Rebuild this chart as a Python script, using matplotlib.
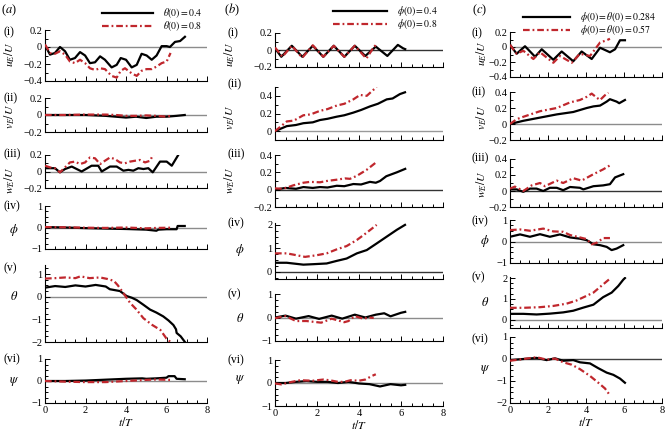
import matplotlib
matplotlib.use('Agg')
import matplotlib.pyplot as plt
from matplotlib.lines import Line2D
from matplotlib.ticker import MultipleLocator, AutoMinorLocator, FuncFormatter

plt.rcParams['font.family'] = ['Liberation Serif', 'DejaVu Serif']
plt.rcParams['mathtext.fontset'] = 'stix'

W, H = 667, 432
BLACK = 'black'
RED = '#c0272d'

# ---------- column (a): theta(0) = 0.4 (black) / 0.8 (red) ----------
a1_tk = [0, 0.25, 0.49, 0.74, 0.99, 1.23, 1.48, 1.73, 1.98, 2.22, 2.47, 2.72, 2.96, 3.29, 3.54,
         3.74, 4.0, 4.28, 4.53, 4.77, 5.02, 5.27, 5.51, 5.76, 6.01, 6.17, 6.42, 6.67, 6.91]
a1_k = [0.02, -0.09, -0.07, 0.0, -0.05, -0.15, -0.13, -0.06, -0.1, -0.19, -0.18, -0.11, -0.15, -0.24, -0.21,
        -0.13, -0.15, -0.24, -0.21, -0.08, -0.1, -0.15, -0.1, 0.01, 0.01, 0.0, 0.06, 0.07, 0.12]
a1_tr = [0, 0.25, 0.49, 0.74, 0.99, 1.23, 1.48, 1.73, 1.98, 2.22, 2.47, 2.72, 2.96, 3.29, 3.54,
         3.74, 3.95, 4.28, 4.53, 4.77, 5.02, 5.27, 5.51, 5.76, 6.01, 6.2]
a1_r = [0.03, -0.07, -0.08, -0.05, -0.09, -0.17, -0.19, -0.15, -0.19, -0.25, -0.27, -0.25, -0.26, -0.34, -0.36,
        -0.28, -0.25, -0.31, -0.34, -0.28, -0.26, -0.26, -0.23, -0.19, -0.17, -0.07]

a2_tk = [0, 1, 2, 3, 3.5, 4, 4.5, 5, 5.5, 6, 6.5, 6.9]
a2_k = [0, 0, 0, -0.01, -0.02, -0.03, -0.02, -0.035, -0.02, -0.02, -0.01, 0]
a2_tr = [0, 1, 2, 3, 3.5, 4, 4.5, 5, 5.5, 6, 6.2]
a2_r = [0, 0, 0.005, 0.005, 0, -0.01, -0.01, -0.005, -0.01, -0.02, -0.01]

a3_tk = [0, 0.25, 0.49, 0.74, 0.99, 1.32, 1.81, 2.3, 2.63, 2.8, 3.21, 3.54, 3.87, 4.12, 4.36,
         4.61, 4.86, 5.1, 5.32, 5.68, 6.01, 6.26, 6.58]
a3_k = [0.04, 0.04, 0.04, -0.01, 0.03, 0.06, 0.0, 0.07, 0.07, 0.0, 0.06, 0.06, 0.01, 0.02, 0.01,
        0.04, 0.03, 0.04, -0.01, 0.12, 0.12, 0.07, 0.2]
a3_tr = [0, 0.25, 0.49, 0.74, 0.99, 1.23, 1.48, 1.73, 1.98, 2.22, 2.47, 2.72, 2.96, 3.21, 3.46,
         3.7, 3.95, 4.2, 4.44, 4.69, 4.94, 5.19, 5.35]
a3_r = [0.07, 0.05, 0.04, -0.01, 0.05, 0.11, 0.12, 0.09, 0.11, 0.17, 0.16, 0.09, 0.13, 0.17, 0.15,
        0.11, 0.1, 0.12, 0.13, 0.14, 0.11, 0.13, 0.21]

a4_tk = [0, 1, 2, 3, 4, 5, 5.5, 5.6, 6, 6.5, 6.55, 6.9]
a4_k = [0.02, 0.0, -0.03, -0.05, -0.07, -0.1, -0.15, -0.1, -0.08, -0.08, 0.07, 0.07]
a4_tr = [0, 1, 2, 3, 4, 5, 5.5, 6.2]
a4_r = [0.02, 0.01, -0.01, -0.02, 0.0, -0.04, -0.02, -0.01]

a5_tk = [0, 0.5, 1, 1.5, 2, 2.5, 3, 3.2, 3.7, 4.03, 4.3, 4.53, 4.85, 5.19, 5.5, 5.84, 6.1, 6.34,
         6.47, 6.5, 6.7, 6.91]
a5_k = [0.4, 0.47, 0.43, 0.5, 0.45, 0.52, 0.45, 0.33, 0.25, 0.03, -0.05, -0.15, -0.35, -0.57, -0.7,
        -0.87, -1.05, -1.25, -1.44, -1.6, -1.75, -2.0]
a5_tr = [0, 0.5, 1, 1.5, 1.75, 2.2, 2.72, 3.1, 3.4, 3.6, 3.8, 4.2, 4.5, 4.86, 5.3, 5.7, 6.0, 6.2]
a5_r = [0.8, 0.82, 0.85, 0.82, 0.9, 0.82, 0.85, 0.78, 0.7, 0.5, 0.25, -0.27, -0.55, -0.95, -1.25,
        -1.47, -1.85, -2.0]

a6_tk = [0, 1, 2, 3, 4, 4.8, 5, 5.5, 6, 6.1, 6.4, 6.5, 6.9]
a6_k = [0, 0, 0.02, 0.06, 0.1, 0.12, 0.1, 0.12, 0.15, 0.22, 0.22, 0.1, 0.08]
a6_tr = [0, 1, 2, 3, 4, 5, 5.5, 6.2]
a6_r = [0, -0.03, -0.05, -0.05, 0.0, 0.05, 0.07, 0.05]

# ---------- column (b): phi(0) = 0.4 (black) / 0.8 (red) ----------
b1_tk = [0, 0.3, 0.8, 1.3, 1.8, 2.3, 2.8, 3.3, 3.8, 4.3, 4.8, 5.35, 5.85, 6.1, 6.2]
b1_k = [0.02, -0.08, 0.05, -0.08, 0.05, -0.08, 0.05, -0.08, 0.05, -0.07, 0.04, -0.07, 0.06, 0.02, 0.01]
b1_tr = [0, 0.35, 0.8, 1.3, 1.8, 2.3, 2.8, 3.3, 3.8, 4.35, 4.75, 4.8]
b1_r = [0.03, -0.08, 0.05, -0.09, 0.055, -0.08, 0.05, -0.08, 0.05, -0.1, 0.05, 0.04]

b2_tk = [0, 0.56, 1.0, 1.35, 1.8, 2.14, 2.5, 2.94, 3.3, 3.73, 4.1, 4.52, 4.9, 5.32, 5.6, 5.95, 6.19]
b2_k = [0, 0.057, 0.07, 0.09, 0.1, 0.126, 0.14, 0.164, 0.18, 0.21, 0.24, 0.28, 0.31, 0.36, 0.37, 0.42, 0.44]
b2_tr = [0, 0.56, 0.9, 1.35, 1.7, 2.14, 2.5, 2.94, 3.3, 3.73, 4.05, 4.37, 4.6, 4.84]
b2_r = [0, 0.11, 0.12, 0.18, 0.19, 0.23, 0.25, 0.29, 0.31, 0.36, 0.41, 0.4, 0.45, 0.5]

b3_tk = [0, 0.5, 1.0, 1.35, 1.8, 2.14, 2.5, 2.94, 3.3, 3.73, 4.1, 4.52, 4.8, 5.0, 5.3, 5.8, 6.2]
b3_k = [0.0, 0.02, 0.01, 0.03, 0.02, 0.03, 0.025, 0.045, 0.04, 0.065, 0.06, 0.09, 0.08, 0.1, 0.155, 0.2, 0.24]
b3_tr = [0, 0.4, 0.87, 1.35, 1.67, 2.14, 2.46, 2.94, 3.33, 3.57, 3.9, 4.37, 4.84]
b3_r = [0.015, 0.01, 0.05, 0.08, 0.09, 0.085, 0.1, 0.115, 0.13, 0.125, 0.16, 0.23, 0.32]

b4_tk = [0, 0.56, 1.35, 1.83, 2.46, 2.94, 3.41, 3.9, 4.37, 4.84, 5.32, 5.8, 6.19]
b4_k = [0.39, 0.39, 0.31, 0.33, 0.36, 0.47, 0.57, 0.79, 0.93, 1.21, 1.5, 1.79, 2.0]
b4_tr = [0, 0.56, 1.03, 1.43, 1.98, 2.46, 2.94, 3.41, 3.9, 4.37, 4.84]
b4_r = [0.79, 0.79, 0.71, 0.64, 0.71, 0.79, 0.96, 1.1, 1.36, 1.67, 2.0]

b5_tk = [0, 0.5, 1.0, 1.6, 2.1, 2.7, 3.2, 3.8, 4.3, 4.8, 5.2, 5.5, 6.0, 6.2]
b5_k = [0, 0.08, -0.05, 0.06, -0.06, 0.08, -0.05, 0.12, 0.0, 0.12, 0.18, 0.05, 0.2, 0.24]
b5_tr = [0, 0.5, 1.0, 1.5, 2.2, 2.7, 3.3, 3.5, 3.8, 4.2, 4.5, 4.7]
b5_r = [-0.03, 0.06, -0.15, -0.15, -0.22, -0.05, -0.2, -0.15, 0.06, -0.05, 0.0, -0.02]

b6_tk = [0, 0.5, 1, 1.5, 2, 2.5, 3, 3.5, 4, 4.5, 5, 5.5, 6, 6.2]
b6_k = [0, 0.0, 0.05, 0.08, 0.05, 0.05, 0.0, 0.05, -0.02, -0.05, -0.15, -0.05, -0.1, -0.08]
b6_tr = [0, 0.3, 0.8, 1.2, 1.8, 2.3, 2.6, 3.0, 3.3, 3.6, 4.0, 4.3, 4.6, 4.8]
b6_r = [-0.02, -0.06, 0.05, 0.12, 0.1, 0.15, 0.12, 0.05, 0.05, 0.12, 0.1, 0.15, 0.3, 0.38]

# ---------- column (c): phi(0) = theta(0) = 0.284 (black) / 0.57 (red) ----------
c1_tk = [0, 0.35, 0.7, 0.79, 1.32, 1.67, 2.28, 2.72, 3.33, 3.77, 4.3, 4.74, 5.26, 5.53, 5.79, 6.05]
c1_k = [0.03, -0.09, -0.01, 0.01, -0.13, -0.03, -0.17, -0.06, -0.19, -0.06, -0.16, -0.01, -0.07, -0.03, 0.09, 0.09]
c1_tr = [0, 0.35, 0.7, 1.23, 1.58, 2.28, 2.63, 3.25, 3.68, 4.21, 4.74, 5.09, 5.26]
c1_r = [0.03, -0.09, -0.05, -0.16, -0.07, -0.21, -0.12, -0.21, -0.09, -0.12, 0.06, 0.09, 0.11]

c2_tk = [0, 0.7, 1.58, 2.46, 3.33, 4.04, 4.39, 4.74, 5.09, 5.26, 5.61, 5.75, 6.05]
c2_k = [0, 0.04, 0.08, 0.12, 0.15, 0.2, 0.22, 0.23, 0.28, 0.31, 0.28, 0.26, 0.3]
c2_tr = [0, 0.35, 0.7, 1.58, 2.46, 3.16, 3.68, 4.04, 4.3, 4.56, 4.74, 5.0, 5.18]
c2_r = [0, 0.06, 0.09, 0.16, 0.2, 0.27, 0.3, 0.34, 0.38, 0.33, 0.3, 0.36, 0.39]

c3_tk = [0, 0.35, 0.7, 1.05, 1.4, 1.75, 2.1, 2.46, 2.8, 3.16, 3.68, 3.86, 4.39, 4.9, 5.26, 5.53, 5.96]
c3_k = [0.02, 0.02, -0.01, 0.03, 0.03, 0.0, 0.04, 0.04, 0.01, 0.05, 0.04, 0.02, 0.06, 0.07, 0.085, 0.17, 0.21]
c3_tr = [0, 0.26, 0.7, 1.14, 1.58, 1.84, 2.46, 2.8, 3.33, 3.77, 4.39, 4.9, 5.26]
c3_r = [0.03, 0.055, 0.0, 0.07, 0.1, 0.06, 0.13, 0.1, 0.16, 0.13, 0.21, 0.27, 0.32]

c4_tk = [0, 0.53, 1.05, 1.58, 2.1, 2.63, 3.16, 3.68, 4.04, 4.39, 4.74, 5.09, 5.35, 5.61, 5.96]
c4_k = [0.22, 0.33, 0.22, 0.34, 0.22, 0.33, 0.19, 0.13, 0.06, -0.13, -0.17, -0.25, -0.4, -0.33, -0.17]
c4_tr = [0, 0.53, 1.05, 1.75, 2.28, 2.8, 3.16, 3.68, 4.04, 4.3, 4.56, 4.91, 5.26]
c4_r = [0.53, 0.56, 0.5, 0.6, 0.47, 0.45, 0.3, 0.19, 0.11, -0.13, -0.06, 0.16, 0.16]

c5_tk = [0, 0.7, 1.4, 2.1, 2.8, 3.33, 3.86, 4.39, 4.9, 5.35, 5.7, 5.96, 6.05]
c5_k = [0.28, 0.28, 0.25, 0.29, 0.35, 0.43, 0.58, 0.72, 1.08, 1.3, 1.62, 1.92, 2.0]
c5_tr = [0, 0.7, 1.58, 2.28, 2.98, 3.5, 4.04, 4.39, 4.74, 5.0, 5.26]
c5_r = [0.57, 0.57, 0.6, 0.66, 0.77, 0.92, 1.15, 1.3, 1.57, 1.77, 1.97]

c6_tk = [0, 0.7, 1.4, 1.93, 2.37, 2.8, 3.33, 3.68, 4.21, 4.65, 5.09, 5.44, 5.79, 6.05]
c6_k = [-0.05, 0, 0.05, -0.05, 0.03, -0.08, -0.05, -0.15, -0.2, -0.42, -0.62, -0.72, -0.89, -1.08]
c6_tr = [0, 0.53, 1.4, 1.93, 2.37, 2.8, 3.25, 3.68, 4.21, 4.65, 5.0, 5.26]
c6_r = [-0.08, -0.02, 0.08, -0.03, 0.02, -0.15, -0.26, -0.46, -0.77, -1.08, -1.34, -1.65]

row_names = ['(i)', '(ii)', '(iii)', '(iv)', '(v)', '(vi)']
ylabels = [r'$u_E/U$', r'$v_E/U$', r'$w_E/U$', r'$\phi$', r'$\theta$', r'$\psi$']

fig = plt.figure(figsize=(W / 100, H / 100), dpi=100)


def fx(x):
    return x / W


def fy(y):
    return 1 - y / H


def tick_fmt(v, pos):
    s = '%g' % round(v, 6)
    if s == '-0':
        s = '0'
    return s.replace('-', '\u2212')


# column layout in pixels: x0, x1 and per row (top, bottom, ylim, major step, zero-line colour)
columns = [
    dict(x0=45, x1=207, letter=r'($a$)', letter_xy=(1, 10), roman_x=4, ylab_x=10, greek_x=14,
         rows=[(30, 81, (-0.4, 0.2), 0.2, '0.55', a1_tk, a1_k, a1_tr, a1_r),
               (98, 132, (-0.2, 0.2), 0.2, '0.55', a2_tk, a2_k, a2_tr, a2_r),
               (155, 188, (-0.2, 0.2), 0.2, '0.55', a3_tk, a3_k, a3_tr, a3_r),
               (206, 249, (-1, 1), 1, '0.55', a4_tk, a4_k, a4_tr, a4_r),
               (265, 342, (-2, 1.4), 1, '0.55', a5_tk, a5_k, a5_tr, a5_r),
               (359, 403, (-1, 1), 1, '0.55', a6_tk, a6_k, a6_tr, a6_r)],
         roman_y=[32, 98, 154, 206, 268, 359],
         ylab_y=[54, 117, 180, 230, 297, 381]),
    dict(x0=275, x1=443, letter=r'($b$)', letter_xy=(224, 10), roman_x=227, ylab_x=230, greek_x=240,
         rows=[(33, 67, (-0.2, 0.2), 0.2, '0.2', b1_tk, b1_k, b1_tr, b1_r),
               (87, 140, (-0.1, 0.5), 0.2, '0.6', b2_tk, b2_k, b2_tr, b2_r),
               (155, 207, (-0.2, 0.4), 0.2, '0.2', b3_tk, b3_k, b3_tr, b3_r),
               (223, 279, (-0.3, 2.08), 1, '0.2', b4_tk, b4_k, b4_tr, b4_r),
               (294, 341, (-1, 1), 1, '0.55', b5_tk, b5_k, b5_tr, b5_r),
               (360, 406, (-1, 1), 1, '0.55', b6_tk, b6_k, b6_tr, b6_r)],
         roman_y=[33, 84, 154, 223, 294, 360],
         ylab_y=[54, 118, 180, 250, 318, 380]),
    dict(x0=510, x1=662, letter=r'($c$)', letter_xy=(472, 10), roman_x=472, ylab_x=482, greek_x=485,
         rows=[(32, 77, (-0.4, 0.2), 0.2, '0.55', c1_tk, c1_k, c1_tr, c1_r),
               (92, 140, (-0.2, 0.4), 0.2, '0.55', c2_tk, c2_k, c2_tr, c2_r),
               (159, 207, (-0.2, 0.4), 0.2, '0.2', c3_tk, c3_k, c3_tr, c3_r),
               (220, 263, (-1, 1), 1, '0.55', c4_tk, c4_k, c4_tr, c4_r),
               (277, 328, (-0.4, 2.05), 1, '0.55', c5_tk, c5_k, c5_tr, c5_r),
               (337, 403, (-2, 1), 1, '0.25', c6_tk, c6_k, c6_tr, c6_r)],
         roman_y=[33, 92, 158, 221, 277, 339],
         ylab_y=[53, 118, 184, 241, 303, 370]),
]

red_dash = (0, (3, 1.3, 0.8, 1.3))

for col in columns:
    x0, x1 = col['x0'], col['x1']
    for i, (top, bot, ylim, step, zc, tk, yk, tr, yr) in enumerate(col['rows']):
        ax = fig.add_axes([fx(x0), fy(bot), (x1 - x0) / W, (bot - top) / H])
        ax.axhline(0, color=zc, lw=1.0, zorder=1)
        ax.plot(tk, yk, color=BLACK, lw=1.6, zorder=3)
        ax.plot(tr, yr, color=RED, lw=1.6, linestyle=red_dash, zorder=4)
        ax.set_xlim(0, 8)
        ax.set_ylim(*ylim)
        ax.xaxis.set_major_locator(MultipleLocator(2))
        ax.xaxis.set_minor_locator(MultipleLocator(0.5))
        ax.yaxis.set_major_locator(MultipleLocator(step))
        ax.yaxis.set_minor_locator(AutoMinorLocator(4 if step == 1 else 2))
        ax.xaxis.set_major_formatter(FuncFormatter(tick_fmt))
        ax.yaxis.set_major_formatter(FuncFormatter(tick_fmt))
        for s in ['top', 'right']:
            ax.spines[s].set_visible(False)
        for s in ['left', 'bottom']:
            ax.spines[s].set_linewidth(0.8)
        ax.tick_params(which='both', direction='in', labelsize=7.5, pad=2, width=0.7)
        ax.tick_params(which='major', length=3.5)
        ax.tick_params(which='minor', length=2)
        ax.patch.set_alpha(0)
        if i < 5:
            ax.tick_params(axis='x', labelbottom=False)
        else:
            ax.set_xlabel(r'$t/T$', fontsize=8.5, labelpad=1)
        fig.text(fx(col['roman_x']), fy(col['roman_y'][i]), row_names[i], fontsize=8.5,
                 ha='left', va='center')
        if i < 3:
            fig.text(fx(col['ylab_x']), fy(col['ylab_y'][i]), ylabels[i], fontsize=8.5,
                     rotation=90, ha='center', va='center')
        else:
            fig.text(fx(col['greek_x']), fy(col['ylab_y'][i]), ylabels[i], fontsize=9,
                     ha='center', va='center')
    fig.text(fx(col['letter_xy'][0]), fy(col['letter_xy'][1]), col['letter'],
             fontsize=9, ha='left', va='center')

# legends drawn by hand
legends = [
    ((102, 153), (13, 26), 163, [r'$\theta(0)=0.4$', r'$\theta(0)=0.8$']),
    ((333, 387), (11, 24), 397, [r'$\phi(0)=0.4$', r'$\phi(0)=0.8$']),
    ((523, 570), (17, 30), 580, [r'$\phi(0)=\theta(0)=0.284$', r'$\phi(0)=\theta(0)=0.57$']),
]
for (lx0, lx1), (ly0, ly1), tx, labels in legends:
    fig.add_artist(Line2D([fx(lx0), fx(lx1)], [fy(ly0), fy(ly0)], color=BLACK, lw=1.6,
                          transform=fig.transFigure))
    fig.add_artist(Line2D([fx(lx0), fx(lx1)], [fy(ly1), fy(ly1)], color=RED, lw=1.6,
                          linestyle=red_dash, transform=fig.transFigure))
    fig.text(fx(tx), fy(ly0), labels[0], fontsize=7, ha='left', va='center')
    fig.text(fx(tx), fy(ly1), labels[1], fontsize=7, ha='left', va='center')

plt.savefig('out.png', dpi=100)
